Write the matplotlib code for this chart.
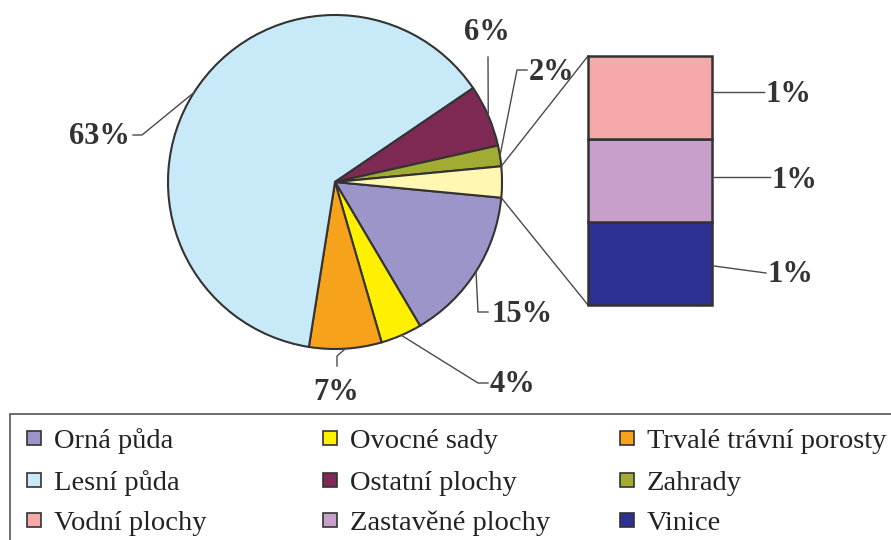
import numpy as np
import matplotlib
matplotlib.use("Agg")
import matplotlib.pyplot as plt
from matplotlib.patches import Rectangle

# data (percent)
pie_names = ["Orná půda", "Ovocné sady", "Trvalé trávní porosty", "Lesní půda",
             "Ostatní plochy", "Zahrady"]
pie_values = [15, 4, 7, 63, 6, 2]
bar_names = ["Vodní plochy", "Zastavěné plochy", "Vinice"]
bar_values = [1, 1, 1]

pie_colors = ["#9B95C9", "#FFF000", "#F7A21B", "#C8EAF8", "#7E2A54", "#A3AC32"]
other_color = "#FFF7B2"
bar_colors = ["#F6A9A9", "#C89FCB", "#2E3192"]

# legend order (row by row as in the reference)
legend_names = ["Orná půda", "Ovocné sady", "Trvalé trávní porosty",
                "Lesní půda", "Ostatní plochy", "Zahrady",
                "Vodní plochy", "Zastavěné plochy", "Vinice"]

W, H = 891, 540
EDGE = "#333333"
TXT = "#333333"
LINE = "#4a4a4a"
lab_font = dict(family="Liberation Serif", fontsize=22, fontweight="bold", color=TXT)


def Y(py):
    # pixel row -> data y
    return H - py


fig = plt.figure(figsize=(W / 100, H / 100), dpi=100)
ax = fig.add_axes([0, 0, 1, 1])

# pie
cx, cy, r = 335, Y(182), 167
other = sum(bar_values)
values = pie_values + [other]
colors = pie_colors + [other_color]
wedges, _ = ax.pie(values, colors=colors, center=(cx, cy), radius=r,
                   startangle=-other / 2 * 3.6, counterclock=False,
                   wedgeprops=dict(edgecolor=EDGE, linewidth=1.5))


def edge_pt(ang, rr=r):
    a = np.deg2rad(ang)
    return cx + rr * np.cos(a), cy + rr * np.sin(a)


# stacked bar of the "other" part
bx, bw = 650, 124
b_top, b_bot = Y(56), Y(305)
scale = (b_top - b_bot) / other
bottom = b_bot
for v, c in zip(bar_values[::-1], bar_colors[::-1]):
    ax.bar(bx, v * scale, width=bw, bottom=bottom, color=c,
           edgecolor=EDGE, linewidth=1.8, zorder=3)
    bottom += v * scale

# connectors pie -> bar
ow = wedges[-1]
for ang, by in ((ow.theta2, b_top), (ow.theta1, b_bot)):
    px, py = edge_pt(ang)
    ax.plot([px, bx - bw / 2], [py, by], color=LINE, lw=1, zorder=2)

# pie labels with leader lines (layout in pixel coords)
label_layout = [
    # knee points after the edge point, text pos, alignment
    ([(478, 312), (488, 312)], (491, 314), "left"),
    ([(478, 383), (488, 383)], (490, 384), "left"),
    ([(337, 356), (337, 366)], (336, 393), "center"),
    ([(142, 135), (133, 135)], (130, 136), "right"),
    ([(488, 57)], (487, 32), "center"),
    ([(517, 70), (527, 70)], (529, 73), "left"),
]
for w, v, (knees, tpos, ha) in zip(wedges[:-1], pie_values, label_layout):
    mid = (w.theta1 + w.theta2) / 2
    pts = [edge_pt(mid)] + [(x, Y(y)) for x, y in knees]
    xs, ys = zip(*pts)
    ax.plot(xs, ys, color=LINE, lw=1, zorder=4)
    ax.text(tpos[0], Y(tpos[1]), f"{v}%", ha=ha, va="center", **lab_font)

# bar labels
bar_lab = [((92, 92), 766, 95), ((177, 177), 772, 180), ((266, 273), 768, 275)]
for v, (ly, lx_end, ty) in zip(bar_values, bar_lab):
    ax.plot([bx + bw / 2 + 2, lx_end - 2], [Y(ly[0]), Y(ly[1])], color=LINE, lw=1, zorder=4)
    ax.text(lx_end, Y(ty), f"{v}%", ha="left", va="center", **lab_font)

# legend (manual grid, uniform columns)
ax.add_patch(Rectangle((10, Y(560)), 900, 146, facecolor="none",
                       edgecolor="#555555", lw=1.2, zorder=5, clip_on=True))
col_x = [27, 323, 620]
row_y = [438, 480, 520]
name_color = dict(zip(pie_names + bar_names, pie_colors + bar_colors))
for i, name in enumerate(legend_names):
    x = col_x[i % 3]
    y = row_y[i // 3]
    ax.add_patch(Rectangle((x, Y(y + 7)), 14, 14, facecolor=name_color[name],
                           edgecolor=EDGE, lw=1.2, zorder=6))
    ax.text(x + 27, Y(y + 10), name, family="Liberation Serif", fontsize=20.5,
            color="#222222", ha="left", va="baseline")

ax.set_xlim(0, W)
ax.set_ylim(0, H)
ax.set_aspect("auto")
ax.axis("off")

fig.savefig("out.png", dpi=100)
